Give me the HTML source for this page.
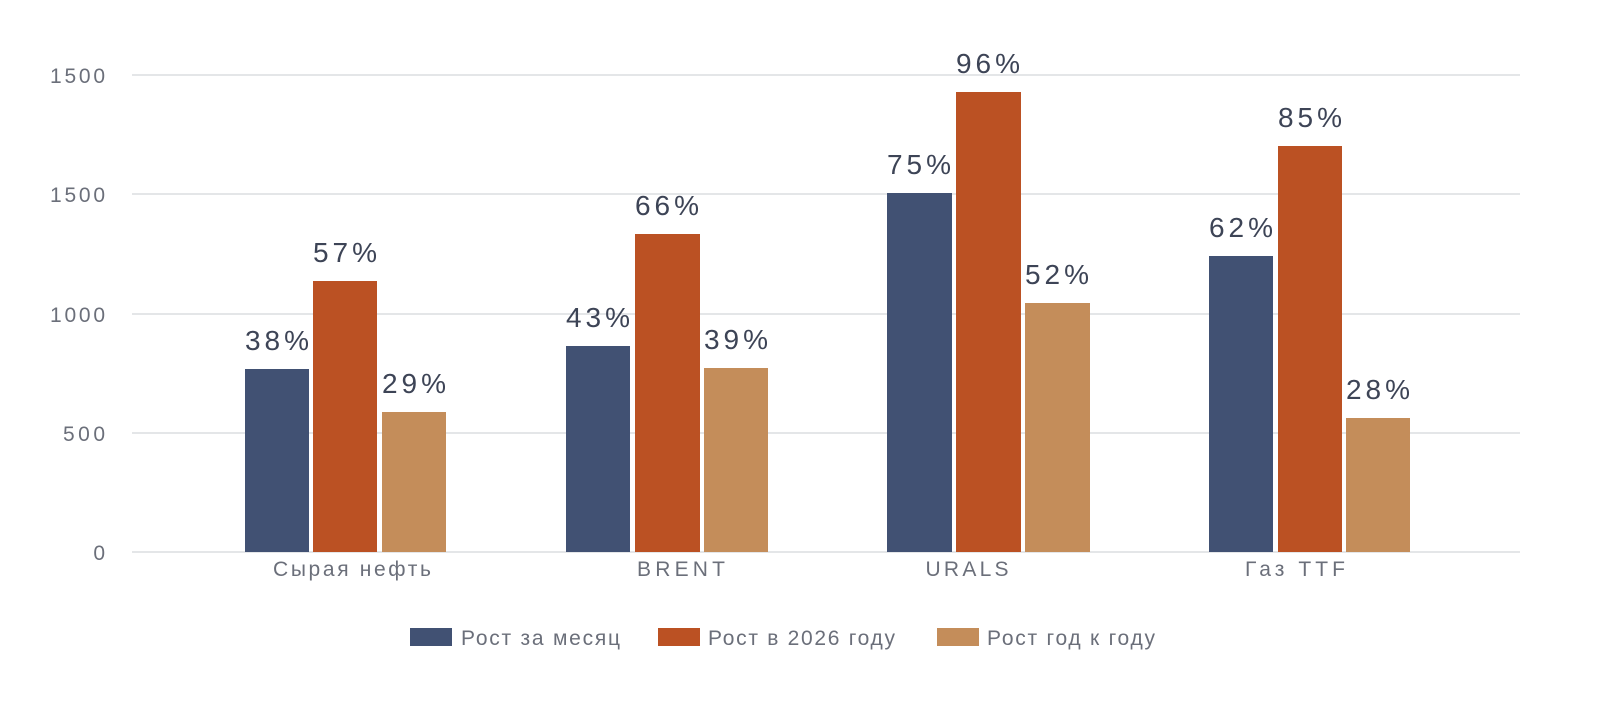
<!DOCTYPE html>
<html><head><meta charset="utf-8"><style>
html,body{margin:0;padding:0;background:#fff;}
svg{display:block;font-family:"Liberation Sans",sans-serif;}
</style></head><body>
<svg width="1600" height="712" viewBox="0 0 1600 712">
<g stroke="#dcdde1" stroke-width="1.5">
<line x1="132" x2="1520" y1="75" y2="75"/>
<line x1="132" x2="1520" y1="194" y2="194"/>
<line x1="132" x2="1520" y1="314" y2="314"/>
<line x1="132" x2="1520" y1="433" y2="433"/>
<line x1="132" x2="1520" y1="552" y2="552"/>
</g>
<g fill="#6b6f7a" font-size="21" text-anchor="end">
<text x="105" y="83" textLength="55">1500</text>
<text x="105" y="202" textLength="55">1500</text>
<text x="105" y="322" textLength="55">1000</text>
<text x="105" y="441" textLength="42">500</text>
<text x="105" y="560">0</text>
</g>
<g fill="#415173">
<rect x="245" y="369" width="64" height="183"/>
<rect x="566" y="346" width="64" height="206"/>
<rect x="887" y="193" width="65" height="359"/>
<rect x="1209" y="256" width="64" height="296"/>
</g>
<g fill="#bb5123">
<rect x="313" y="281" width="64" height="271"/>
<rect x="635" y="234" width="65" height="318"/>
<rect x="956" y="92" width="65" height="460"/>
<rect x="1278" y="146" width="64" height="406"/>
</g>
<g fill="#c48d5a">
<rect x="382" y="412" width="64" height="140"/>
<rect x="704" y="368" width="64" height="184"/>
<rect x="1025" y="303" width="65" height="249"/>
<rect x="1346" y="418" width="64" height="134"/>
</g>
<g fill="#3d4456" font-size="28" text-anchor="middle">
<text x="277" y="350" textLength="64">38%</text>
<text x="345" y="262" textLength="64">57%</text>
<text x="414" y="393" textLength="64">29%</text>
<text x="598" y="327" textLength="64">43%</text>
<text x="667" y="215" textLength="64">66%</text>
<text x="736" y="349" textLength="64">39%</text>
<text x="919" y="174" textLength="64">75%</text>
<text x="988" y="73" textLength="64">96%</text>
<text x="1057" y="284" textLength="64">52%</text>
<text x="1241" y="237" textLength="64">62%</text>
<text x="1310" y="127" textLength="64">85%</text>
<text x="1378" y="399" textLength="64">28%</text>
</g>
<g fill="#6b6f7a" font-size="21" text-anchor="middle">
<text x="352" y="576" textLength="158">Сырая нефть</text>
<text x="681" y="576" textLength="88">BRENT</text>
<text x="967" y="576" textLength="83">URALS</text>
<text x="1295" y="576" textLength="100">Газ TTF</text>
</g>
<rect x="410" y="628" width="42" height="18" fill="#415173"/>
<rect x="658" y="628" width="42" height="18" fill="#bb5123"/>
<rect x="937" y="628" width="42" height="18" fill="#c48d5a"/>
<g fill="#6b6f7a" font-size="21">
<text x="461" y="645" textLength="159">Рост за месяц</text>
<text x="708" y="645" textLength="187">Рост в 2026 году</text>
<text x="987" y="645" textLength="168">Рост год к году</text>
</g>
</svg>
</body></html>
